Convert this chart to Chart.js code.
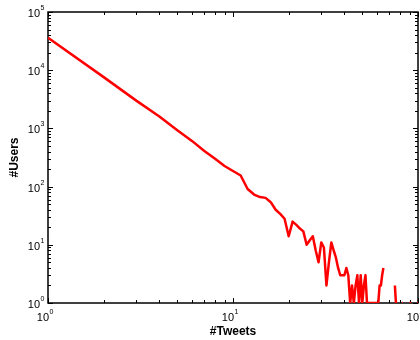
<!DOCTYPE html>
<html>
<head>
<meta charset="utf-8">
<script src="https://cdn.jsdelivr.net/npm/chart.js@4"></script>
<style>
  html, body { margin: 0; padding: 0; background: #fff; }
  canvas { display: block; }
</style>
</head>
<body>
<canvas id="chart" width="420" height="340"></canvas>
<script>
// number of tweets per user (x) and how many users posted that many (y)
const tweets = [
  1, 2, 3, 4, 5, 6, 7, 8, 9, 10,
  11, 12, 13, 14, 15, 16, 17, 18, 19, 20,
  21, 22, 23, 24, 25, 26, 27, 28, 29, 30,
  31, 32, 33, 34, 35, 36, 37, 38, 39, 40,
  41, 42, 43, 44, 45, 46, 47, 48, 49, 50,
  51, 52, 53, 54, 55, 56, 57, 58, 59, 60,
  61, 62, 63, 64, 65, 66, 67, 68, 69, 70,
  71, 72, 73, 74, 75, 76, 77, 78, 79, 80,
  81, 82, 83, 84, 85, 86, 87, 88, 89, 90,
  91, 92, 93, 94, 95, 96, 97, 98, 99, 100
];
const users = [
  36000, 7600, 3000, 1600, 930, 610, 410, 300, 226, 185,
  155, 91, 73, 66, 64, 54, 40, 34, 28, 14,
  25, 22, 19, 17, 10, 12, 14, 8, 5, 11,
  9, 2, 5, 11, 8, 6, 4, 3, 3, 3,
  4, 3, 1, 2, 1, 2, 3, 1, 3, 1,
  2, 3, 1, 1, 1, 1, 1, 1, 1, 1,
  1, 2, 2, 3, 4, 0, 0, 0, 0, 0,
  0, 0, 0, 0, 2, 1, 0, 0, 0, 0,
  0, 1, 1, 0, 0, 0, 0, 0, 0, 1,
  1, 1, 0, 0, 0, 0, 0, 0, 1, 1
];
const xExponents = [0, 1, 2];
const yExponents = [0, 1, 2, 3, 4, 5];
const minorSteps = [2, 3, 4, 5, 6, 7, 8, 9];

const FONT = "'Liberation Sans', Arial, Helvetica, sans-serif";

// zero counts cannot sit on a log axis, so they become gaps
const points = tweets.map((t, i) => ({ x: t, y: users[i] > 0 ? users[i] : null }));

function drawTick(ctx, x1, y1, x2, y2) {
  ctx.beginPath();
  ctx.moveTo(x1, y1);
  ctx.lineTo(x2, y2);
  ctx.stroke();
}

function drawPower(ctx, x, y, exp) {
  // "10" with a small raised exponent, MATLAB style
  ctx.font = "11px " + FONT;
  ctx.textBaseline = "alphabetic";
  ctx.textAlign = "right";
  ctx.fillText("10", x, y);
  ctx.font = "7px " + FONT;
  ctx.textAlign = "left";
  ctx.fillText(String(exp), x + 0.5, y - 7);
}

const matlabAxes = {
  id: "matlabAxes",
  beforeDatasetsDraw(chart) {
    const { ctx, chartArea: a, scales } = chart;
    const xs = scales.x;
    const ys = scales.y;
    ctx.save();
    ctx.fillStyle = "#000";
    ctx.strokeStyle = "#000";

    // box
    ctx.lineWidth = 1.5;
    ctx.strokeRect(a.left, a.top, a.right - a.left, a.bottom - a.top);

    // ticks, inside the box on all four sides
    ctx.lineWidth = 1;
    yExponents.forEach((e) => {
      const py = Math.round(ys.getPixelForValue(Math.pow(10, e))) + 0.5;
      drawTick(ctx, a.left, py, a.left + 5, py);
      drawTick(ctx, a.right, py, a.right - 5, py);
      if (e < 5) {
        minorSteps.forEach((k) => {
          const my = Math.round(ys.getPixelForValue(k * Math.pow(10, e))) + 0.5;
          drawTick(ctx, a.left, my, a.left + 3, my);
          drawTick(ctx, a.right, my, a.right - 3, my);
        });
      }
    });
    xExponents.forEach((e) => {
      const px = Math.round(xs.getPixelForValue(Math.pow(10, e))) + 0.5;
      drawTick(ctx, px, a.bottom, px, a.bottom - 5);
      drawTick(ctx, px, a.top, px, a.top + 5);
      if (e < 2) {
        minorSteps.forEach((k) => {
          const mx = Math.round(xs.getPixelForValue(k * Math.pow(10, e))) + 0.5;
          drawTick(ctx, mx, a.bottom, mx, a.bottom - 3);
          drawTick(ctx, mx, a.top, mx, a.top + 3);
        });
      }
    });

    // tick labels
    yExponents.forEach((e) => {
      const py = ys.getPixelForValue(Math.pow(10, e));
      drawPower(ctx, 40, py + 5, e);
    });
    xExponents.forEach((e) => {
      const px = xs.getPixelForValue(Math.pow(10, e));
      drawPower(ctx, px + 1, a.bottom + 18, e);
    });

    // axis titles
    ctx.font = "bold 12px " + FONT;
    ctx.textAlign = "center";
    ctx.textBaseline = "alphabetic";
    ctx.fillText("#Tweets", (a.left + a.right) / 2, a.bottom + 32);
    ctx.save();
    ctx.translate(18, (a.top + a.bottom) / 2);
    ctx.rotate(-Math.PI / 2);
    ctx.fillText("#Users", 0, 0);
    ctx.restore();

    ctx.restore();
  }
};

new Chart(document.getElementById("chart"), {
  type: "line",
  data: {
    datasets: [
      {
        data: points,
        borderColor: "#ff0000",
        borderWidth: 2.5,
        pointRadius: 0,
        tension: 0,
        spanGaps: false,
        borderJoinStyle: "round"
      }
    ]
  },
  options: {
    responsive: false,
    animation: false,
    devicePixelRatio: 1,
    layout: { padding: { left: 48, top: 12, right: 2, bottom: 37 } },
    plugins: {
      legend: { display: false },
      tooltip: { enabled: false }
    },
    scales: {
      x: { type: "logarithmic", min: 1, max: 100, display: false },
      y: { type: "logarithmic", min: 1, max: 100000, display: false }
    }
  },
  plugins: [matlabAxes]
});
</script>
</body>
</html>
